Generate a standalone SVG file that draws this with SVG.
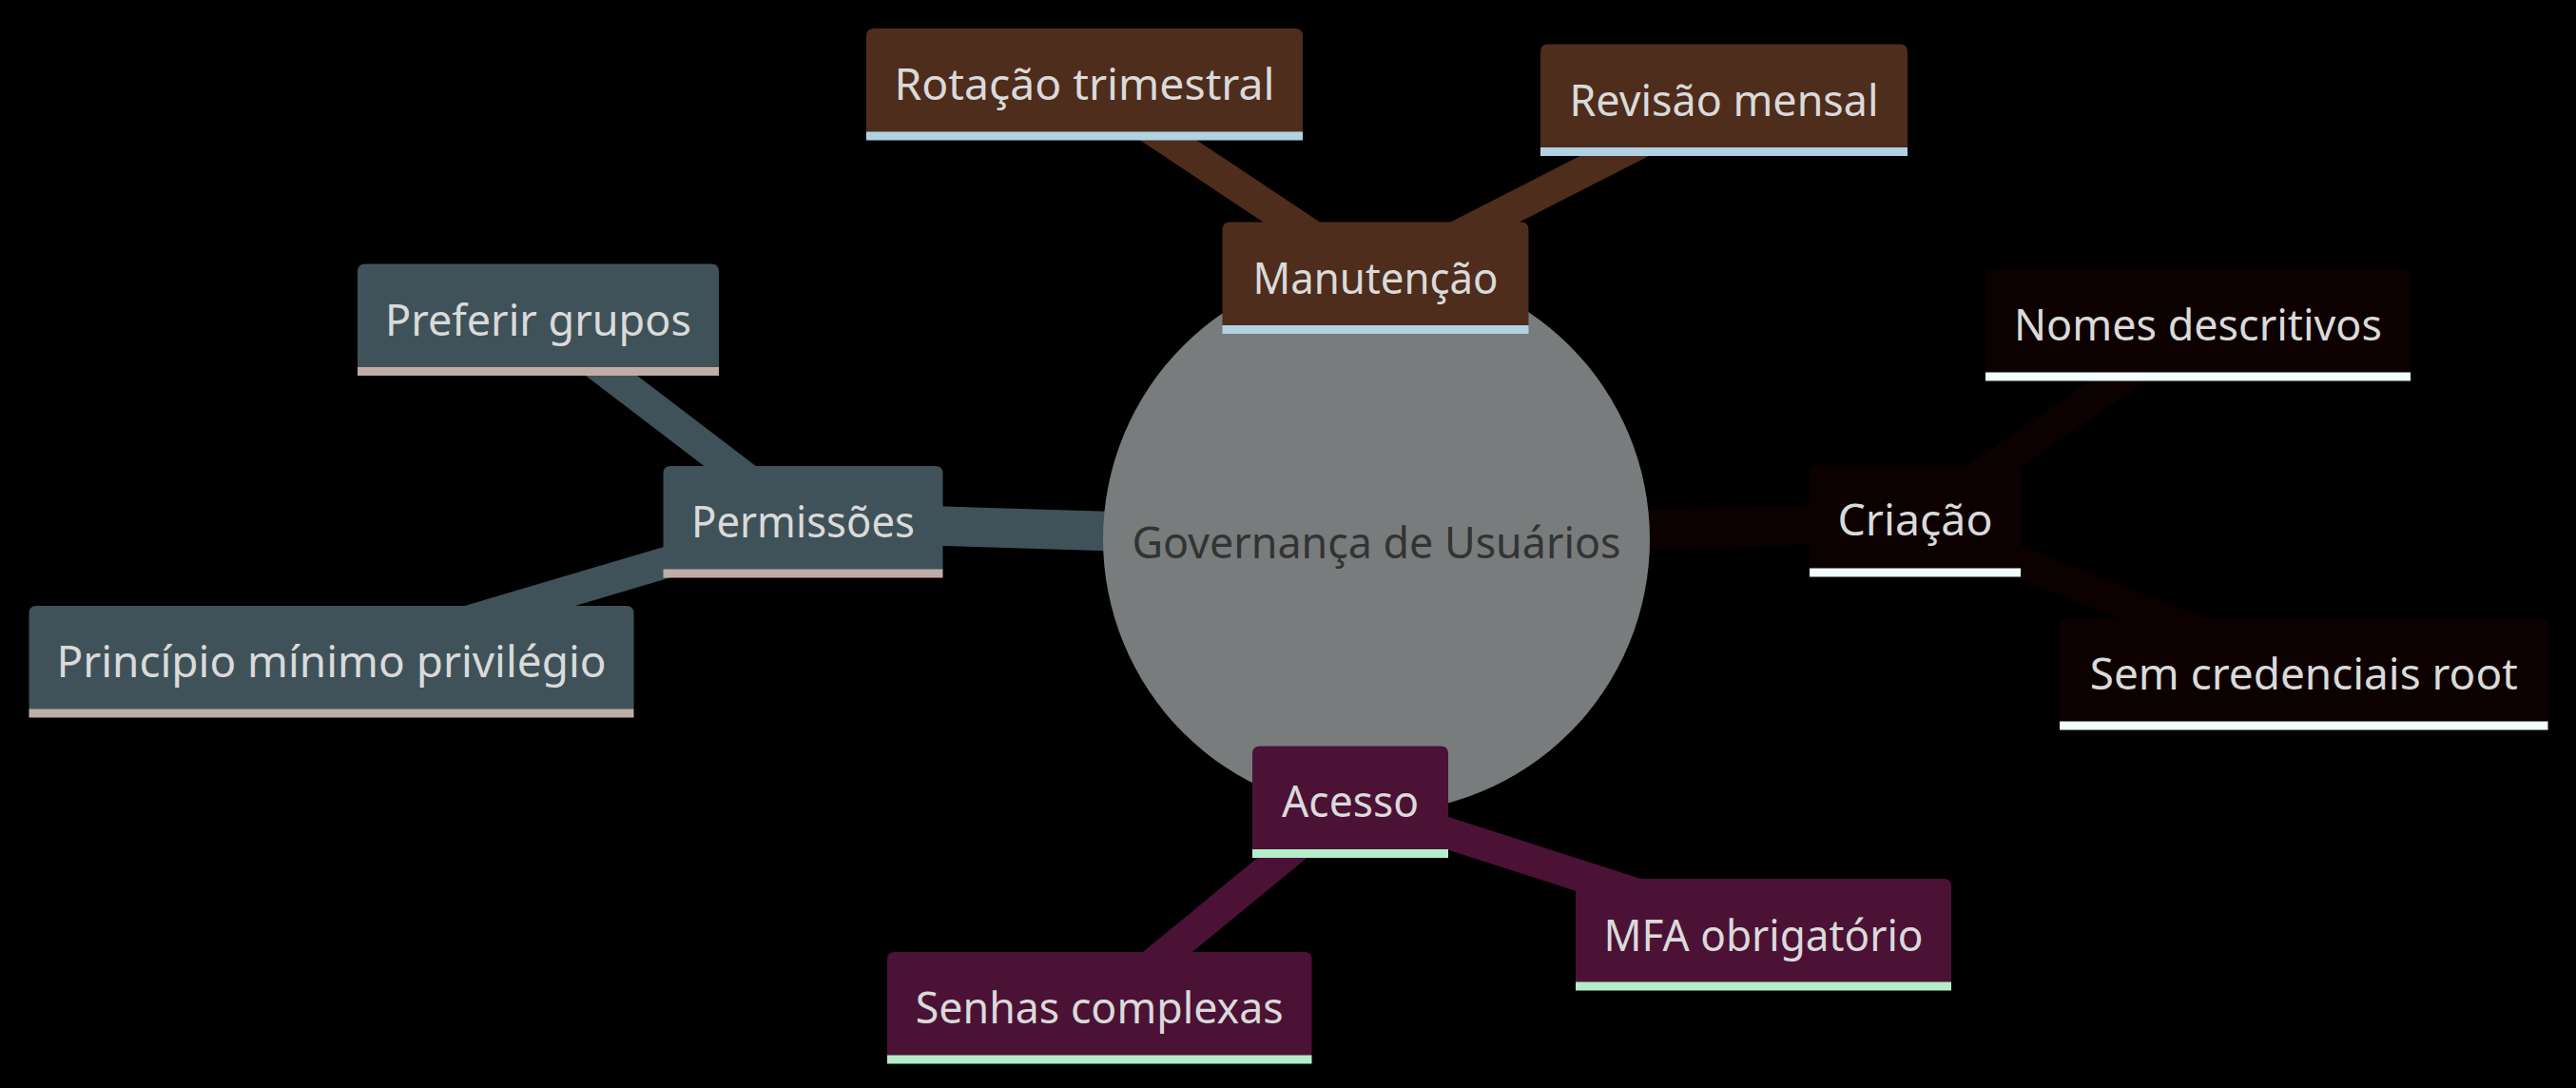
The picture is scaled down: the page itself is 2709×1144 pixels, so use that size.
<svg xmlns="http://www.w3.org/2000/svg" width="2709" height="1144" viewBox="0 0 2709 1144">
<style>
.bg{fill:#000000}
.e1{stroke-width:41.5;stroke-linecap:butt;fill:none}
.e2{stroke-width:33;stroke-linecap:butt;fill:none}
.s0{fill:#4e2d1d}.s0l{fill:#b1d2e2}.s0e{stroke:#4e2d1d}
.s1{fill:#3f5259}.s1l{fill:#c0ada6}.s1e{stroke:#3f5259}
.s2{fill:#0d0000}.s2l{fill:#f2ffff}.s2e{stroke:#0d0000}
.s3{fill:#4b1236}.s3l{fill:#b4edc9}.s3e{stroke:#4b1236}
.t{font-family:"Noto Sans","Open Sans","DejaVu Sans",sans-serif;font-size:46px;fill:#dadada;text-anchor:middle}
.rt{font-family:"Noto Sans","Open Sans","DejaVu Sans",sans-serif;font-size:46px;fill:#333333;text-anchor:middle}
.root{fill:#787c7c}
</style>
<rect class="bg" x="0" y="0" width="2709" height="1144"/>
<g id="connectors">
<line class="e2 s0e" x1="1446.5" y1="292.25" x2="1140.5" y2="88.75"/>
<line class="e2 s0e" x1="1446.5" y1="292.25" x2="1813" y2="105.25"/>
<line class="e2 s1e" x1="844.5" y1="548.75" x2="566" y2="336.25"/>
<line class="e2 s1e" x1="844.5" y1="548.75" x2="348.5" y2="695.75"/>
<line class="e2 s2e" x1="2014" y1="547.75" x2="2311.5" y2="342.25"/>
<line class="e2 s2e" x1="2014" y1="547.75" x2="2422.75" y2="708.75"/>
<line class="e2 s3e" x1="1420" y1="843.25" x2="1854.5" y2="982.75"/>
<line class="e2 s3e" x1="1420" y1="843.25" x2="1156.25" y2="1059.75"/>
<line class="e1 s0e" x1="1447.5" y1="567" x2="1446.5" y2="292.25"/>
<line class="e1 s1e" x1="1447.5" y1="567" x2="844.5" y2="548.75"/>
<line class="e1 s2e" x1="1447.5" y1="567" x2="2014" y2="547.75"/>
<line class="e1 s3e" x1="1447.5" y1="567" x2="1420" y2="843.25"/>
</g>
<g id="root">
<circle class="root" cx="1447.5" cy="567" r="287.5"/>
<text class="rt" x="1447.5" y="587" textLength="514" lengthAdjust="spacingAndGlyphs">Governança de Usuários</text>
</g>
<g id="manutencao">
<path class="s0" d="M1285.5,342.5 V241.5 Q1285.5,233.5 1293.5,233.5 H1599.5 Q1607.5,233.5 1607.5,241.5 V342.5 Z"/>
<rect class="s0l" x="1285.5" y="342" width="322" height="9"/>
<text class="t" x="1446.5" y="308.5" textLength="258" lengthAdjust="spacingAndGlyphs">Manutenção</text>
</g>
<g id="rotacao">
<path class="s0" d="M911,139 V38 Q911,30 919,30 H1362 Q1370,30 1370,38 V139 Z"/>
<rect class="s0l" x="911" y="138.5" width="459" height="9"/>
<text class="t" x="1140.5" y="105" textLength="400" lengthAdjust="spacingAndGlyphs">Rotação trimestral</text>
</g>
<g id="revisao">
<path class="s0" d="M1620,155.5 V54.5 Q1620,46.5 1628,46.5 H1998 Q2006,46.5 2006,54.5 V155.5 Z"/>
<rect class="s0l" x="1620" y="155" width="386" height="9"/>
<text class="t" x="1813" y="121.5" textLength="325" lengthAdjust="spacingAndGlyphs">Revisão mensal</text>
</g>
<g id="permissoes">
<path class="s1" d="M697.5,599 V498 Q697.5,490 705.5,490 H983.5 Q991.5,490 991.5,498 V599 Z"/>
<rect class="s1l" x="697.5" y="598.5" width="294" height="9"/>
<text class="t" x="844.5" y="565" textLength="235" lengthAdjust="spacingAndGlyphs">Permissões</text>
</g>
<g id="preferir">
<path class="s1" d="M376,386.5 V285.5 Q376,277.5 384,277.5 H748 Q756,277.5 756,285.5 V386.5 Z"/>
<rect class="s1l" x="376" y="386" width="380" height="9"/>
<text class="t" x="566" y="352.5" textLength="322" lengthAdjust="spacingAndGlyphs">Preferir grupos</text>
</g>
<g id="principio">
<path class="s1" d="M30.5,746 V645 Q30.5,637 38.5,637 H658.5 Q666.5,637 666.5,645 V746 Z"/>
<rect class="s1l" x="30.5" y="745.5" width="636" height="9"/>
<text class="t" x="348.5" y="712" textLength="578" lengthAdjust="spacingAndGlyphs">Princípio mínimo privilégio</text>
</g>
<g id="criacao">
<path class="s2" d="M1903,598 V497 Q1903,489 1911,489 H2117 Q2125,489 2125,497 V598 Z"/>
<rect class="s2l" x="1903" y="597.5" width="222" height="9"/>
<text class="t" x="2014" y="563" textLength="163" lengthAdjust="spacingAndGlyphs">Criação</text>
</g>
<g id="nomes">
<path class="s2" d="M2088,392.5 V291.5 Q2088,283.5 2096,283.5 H2527 Q2535,283.5 2535,291.5 V392.5 Z"/>
<rect class="s2l" x="2088" y="391.5" width="447" height="9"/>
<text class="t" x="2311.5" y="357.5" textLength="387" lengthAdjust="spacingAndGlyphs">Nomes descritivos</text>
</g>
<g id="semcred">
<path class="s2" d="M2166,759 V658 Q2166,650 2174,650 H2671.5 Q2679.5,650 2679.5,658 V759 Z"/>
<rect class="s2l" x="2166" y="758.5" width="513.5" height="9"/>
<text class="t" x="2422.75" y="725" textLength="450" lengthAdjust="spacingAndGlyphs">Sem credenciais root</text>
</g>
<g id="acesso">
<path class="s3" d="M1317,893.5 V792.5 Q1317,784.5 1325,784.5 H1515 Q1523,784.5 1523,792.5 V893.5 Z"/>
<rect class="s3l" x="1317" y="893" width="206" height="9"/>
<text class="t" x="1420" y="859" textLength="144" lengthAdjust="spacingAndGlyphs">Acesso</text>
</g>
<g id="mfa">
<path class="s3" d="M1657,1033 V932 Q1657,924 1665,924 H2044 Q2052,924 2052,932 V1033 Z"/>
<rect class="s3l" x="1657" y="1032.5" width="395" height="9"/>
<text class="t" x="1854.5" y="999.5" textLength="336" lengthAdjust="spacingAndGlyphs">MFA obrigatório</text>
</g>
<g id="senhas">
<path class="s3" d="M933,1110 V1009 Q933,1001 941,1001 H1371.5 Q1379.5,1001 1379.5,1009 V1110 Z"/>
<rect class="s3l" x="933" y="1109.5" width="446.5" height="9"/>
<text class="t" x="1156.25" y="1076" textLength="387" lengthAdjust="spacingAndGlyphs">Senhas complexas</text>
</g>
</svg>
